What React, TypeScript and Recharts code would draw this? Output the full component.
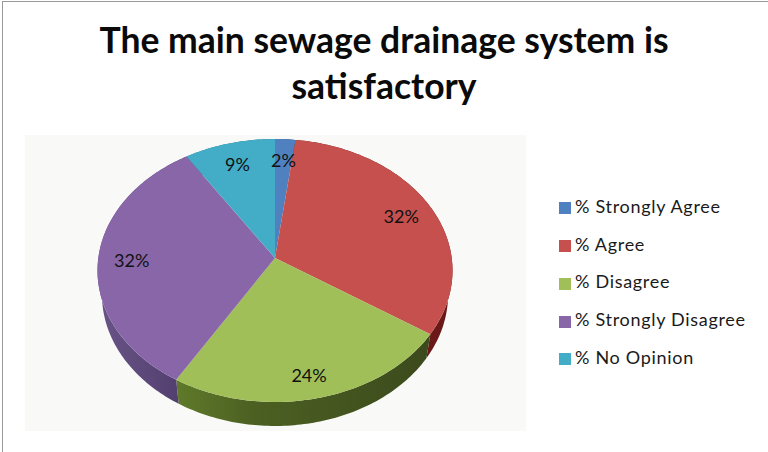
import { Cell, Legend, Pie, PieChart } from "recharts";

const categories = ["% Strongly Agree", "% Agree", "% Disagree", "% Strongly Disagree", "% No Opinion"];
const percents = [2, 32, 24, 32, 9];
const faceColors = ["#4f81c0", "#c5504e", "#a0bf58", "#8866a8", "#43adc8"];
const wallColors = ["#2f4f78", "#6b1818", "url(#wallGreen)", "url(#wallPurple)", "#2a6f82"];
const titleLines = ["The main sewage drainage system is", "satisfactory"];

const pieData = categories.map((name, i) => ({ name, value: percents[i] }));

// tilted pie: the circle from recharts is pushed through a small perspective
const TILT = 0.095;
const SQUASH = 130.3 / 176.7;
const WALL = 24;
const WALL_NARROW = 0.975;
const RAD = Math.PI / 180;

function project(cx: number, cy: number, r: number, deg: number, scale = 1) {
  const u = Math.cos(deg * RAD) * scale;
  const v = Math.sin(deg * RAD) * scale;
  const d = 1 + TILT * v;
  return { x: cx + (r * u) / d, y: cy - (r * SQUASH * v) / d };
}

function arcPoints(p: any, dy = 0, narrow = 1) {
  const pts: string[] = [];
  const n = Math.max(2, Math.ceil(Math.abs(p.endAngle - p.startAngle)));
  for (let i = 0; i <= n; i++) {
    const a = p.startAngle + ((p.endAngle - p.startAngle) * i) / n;
    const q = project(p.cx, p.cy, p.outerRadius, a);
    const x = p.cx + (q.x - p.cx) * narrow;
    pts.push(`${x.toFixed(2)},${(q.y + dy).toFixed(2)}`);
  }
  return pts;
}

function FaceShape(p: any) {
  const d = `M${p.cx},${p.cy}L${arcPoints(p).join("L")}Z`;
  return <path d={d} fill={p.fill} stroke="none" />;
}

function WallShape(p: any) {
  const top = arcPoints(p);
  const low = arcPoints(p, WALL, WALL_NARROW).reverse();
  return <path d={`M${top.join("L")}L${low.join("L")}Z`} fill={p.fill} stroke="none" />;
}

function renderLabel(p: any) {
  const q = project(p.cx, p.cy, p.outerRadius, p.midAngle, 0.81);
  // labels on the front of the pie sit a little lower
  const drop = 6 * Math.max(0, -Math.sin(p.midAngle * RAD));
  return (
    <text x={q.x} y={q.y + drop} textAnchor="middle" dominantBaseline="central" fontSize={18} fontFamily="Lato" fill="#111">
      {p.value}%
    </text>
  );
}

export default function App() {
  return (
    <div style={{ position: "absolute", left: 0, top: 0, width: 768, height: 452, background: "#fff", overflow: "hidden" }}>
      <div style={{ position: "absolute", left: 2, top: 1, width: 780, height: 470, border: "1.5px solid #999", boxSizing: "border-box" }} />
      <div style={{ position: "absolute", left: 25, top: 135, width: 501, height: 296, background: "#f9faf8" }} />
      <div
        style={{
          position: "absolute",
          left: 0,
          top: 17,
          width: 768,
          textAlign: "center",
          fontFamily: "Lato",
          fontWeight: 700,
          fontSize: 35.5,
          lineHeight: "46px",
          color: "#0a0a0a",
        }}
      >
        {titleLines.map((t) => (
          <div key={t}>{t}</div>
        ))}
      </div>
      <div style={{ position: "absolute", left: 0, top: 0 }}>
        <PieChart width={768} height={452} margin={{ top: 0, right: 0, bottom: 0, left: 0 }}>
          <defs>
            <linearGradient id="wallGreen" x1="0" y1="0" x2="1" y2="0">
              <stop offset="0%" stopColor="#5f7a2a" />
              <stop offset="30%" stopColor="#4c6022" />
              <stop offset="100%" stopColor="#3c4a1c" />
            </linearGradient>
            <linearGradient id="wallPurple" x1="0" y1="0" x2="1" y2="0">
              <stop offset="0%" stopColor="#6a5488" />
              <stop offset="100%" stopColor="#503d6c" />
            </linearGradient>
          </defs>
          <Pie
            data={pieData}
            dataKey="value"
            nameKey="name"
            cx={275}
            cy={258}
            outerRadius={176.7}
            startAngle={90}
            endAngle={-270}
            legendType="none"
            isAnimationActive={false}
            shape={WallShape}
            stroke="none"
          >
            {pieData.map((item, i) => (
              <Cell key={item.name} fill={wallColors[i]} />
            ))}
          </Pie>
          <Pie
            data={pieData}
            dataKey="value"
            nameKey="name"
            cx={275}
            cy={258}
            outerRadius={176.7}
            startAngle={90}
            endAngle={-270}
            isAnimationActive={false}
            shape={FaceShape}
            stroke="none"
            label={renderLabel}
            labelLine={false}
          >
            {pieData.map((item, i) => (
              <Cell key={item.name} fill={faceColors[i]} />
            ))}
          </Pie>
          <Legend
            layout="vertical"
            align="right"
            verticalAlign="top"
            iconType="square"
            iconSize={12}
            itemSorter={null}
            formatter={(v: string) => <span style={{ color: "#1a1a1a" }}>{v}</span>}
            wrapperStyle={{
              left: 559,
              right: "auto",
              top: 188,
              width: 205,
              fontFamily: "Lato",
              fontSize: 18,
              lineHeight: "37.7px",
              letterSpacing: 0.7,
            }}
          />
        </PieChart>
      </div>
    </div>
  );
}
